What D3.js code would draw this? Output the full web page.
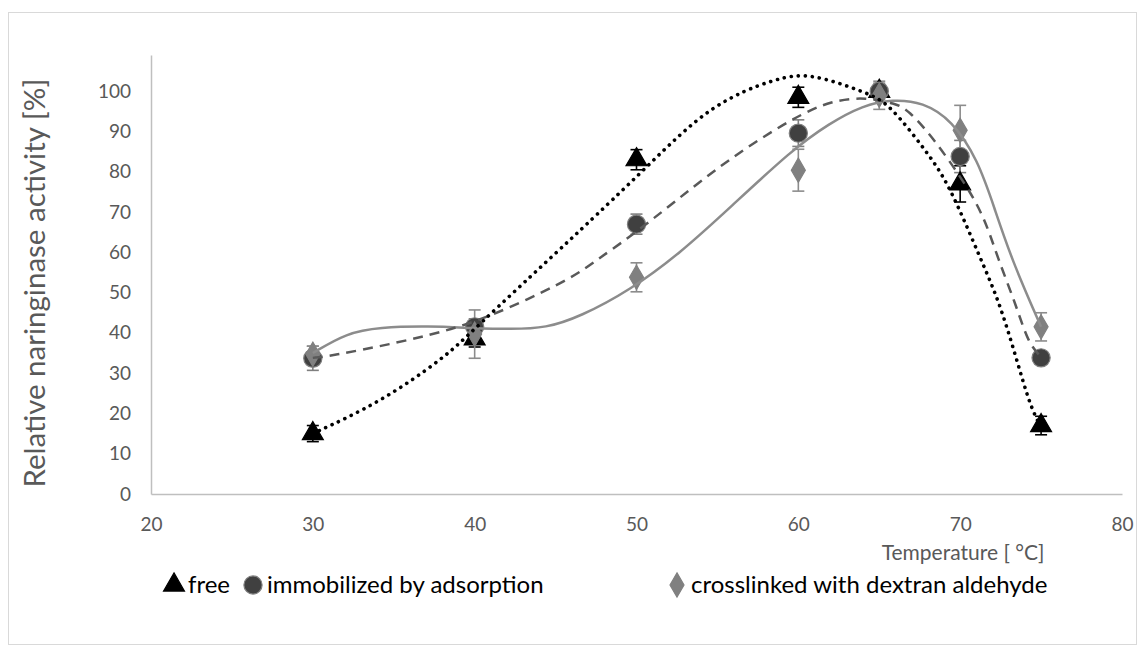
<!DOCTYPE html>
<html>
<head>
<meta charset="utf-8">
<script src="https://cdn.jsdelivr.net/npm/d3@7"></script>
<style>
  body { margin: 0; background: #fff; }
  text { font-family: Lato, "Noto Sans", sans-serif; }
</style>
</head>
<body>
<div id="chart"></div>
<script>
// measured values
const temps = [30, 40, 50, 60, 65, 70, 75];
const freeVals = [15, 38.5, 83, 98.5, 100, 77, 17];
const freeErr = [2, 2, 2.5, 2.5, 1.5, 4.5, 2.3];
const immobVals = [33.7, 41.5, 67, 89.6, 100, 83.8, 33.8];
const immobErr = [3, 2, 2.5, 3.3, 2, 4, 1.5];
const crossVals = [34.7, 39.7, 53.8, 80.4, 99, 90.3, 41.5];
const crossErr = [2, 6, 3.6, 5.2, 3.5, 6.2, 3.5];

// trendlines: [temperature, activity]
const freeTrend = [[30, 15], [34.1, 22.6], [38.2, 34], [39.9, 40.7], [45, 59.8], [46.4, 65], [50.6, 81],
    [54.6, 97], [58.8, 103.5], [60.8, 104.5], [64.3, 99.5], [65.6, 97], [68, 84.6], [69.3, 77],
    [71.3, 58], [72.5, 47], [73.8, 29], [74.4, 21.3], [75, 16.5]];
const immobTrend = [[30, 33.8], [31, 34.2], [35.2, 37.5], [39, 41.2], [42.3, 46.4], [46.1, 53.8],
    [47.6, 58.3], [49.6, 63.8], [52.5, 73], [55.6, 82.9], [59.7, 93.5], [62.1, 97.8], [64.2, 98.5],
    [66, 97], [66.8, 95.3], [68.3, 88.6], [70.3, 77.2], [71.5, 68.7], [72.3, 58.8], [73.5, 46.4],
    [74.2, 37.5], [75, 34]];
const crossTrend = [[30, 35], [32.1, 40], [34.1, 41.4], [37.2, 41.7], [39.8, 41.2], [42.3, 40.9],
    [44.4, 41.2], [46.5, 44], [49.6, 50.6], [52.7, 59.8], [55.8, 71.2], [59.6, 85.4], [61.9, 92],
    [64, 96.5], [65.8, 98], [67.7, 97.3], [69.5, 92.8], [71.1, 82.9], [72.1, 71.2], [73.2, 58], [75, 41.5]];

const xTicks = [20, 30, 40, 50, 60, 70, 80];
const yTicks = [0, 10, 20, 30, 40, 50, 60, 70, 80, 90, 100];

const W = 1144, H = 657;
const svg = d3.select('#chart').append('svg')
    .attr('width', W)
    .attr('height', H);

svg.append('rect')
    .attr('width', W).attr('height', H)
    .attr('fill', '#fff');

// outer chart frame
svg.append('rect')
    .attr('x', 8.5).attr('y', 12.5)
    .attr('width', 1128).attr('height', 632)
    .attr('fill', 'none')
    .attr('stroke', '#d9d9d9');

const x = d3.scaleLinear().domain([20, 80]).range([151, 1122]);
const y = d3.scaleLinear().domain([0, 109]).range([494, 55]);

const axisColor = '#bfbfbf';
const labelColor = '#595959';

// axes
const xAxis = svg.append('g')
    .attr('transform', `translate(0,${y(0)})`)
    .call(d3.axisBottom(x).tickValues(xTicks).tickSize(0).tickPadding(24));
xAxis.select('.domain').attr('stroke', axisColor).attr('stroke-width', 1.5);
xAxis.selectAll('text')
    .style('font-family', 'Lato, sans-serif')
    .style('font-size', '19px')
    .attr('fill', labelColor);

const yAxis = svg.append('g')
    .attr('transform', `translate(${x(20)},0)`)
    .call(d3.axisLeft(y).tickValues(yTicks).tickSize(0).tickPadding(20));
yAxis.select('.domain').attr('stroke', axisColor).attr('stroke-width', 1.5);
yAxis.selectAll('text')
    .style('font-family', 'Lato, sans-serif')
    .style('font-size', '19px')
    .attr('fill', labelColor);

// axis titles
svg.append('text')
    .attr('transform', `translate(45,283) rotate(-90)`)
    .attr('text-anchor', 'middle')
    .style('font-size', '29.5px')
    .attr('fill', labelColor)
    .text('Relative naringinase activity [%]');

svg.append('text')
    .attr('x', 963).attr('y', 560)
    .attr('text-anchor', 'middle')
    .style('font-size', '21px')
    .attr('fill', labelColor)
    .text('Temperature [ °C]');

const series = [
    { name: 'free', vals: freeVals, err: freeErr, shape: d3.symbolTriangle, size: 190, fill: '#000', stroke: '#000', errColor: '#000' },
    { name: 'immobilized by adsorption', vals: immobVals, err: immobErr, shape: d3.symbolCircle, size: 260, fill: '#404040', stroke: '#7f7f7f', errColor: '#7f7f7f' },
    { name: 'crosslinked with dextran aldehyde', vals: crossVals, err: crossErr, shape: d3.symbolDiamond, size: 170, fill: '#808080', stroke: '#808080', errColor: '#8c8c8c' }
];

// error bars
series.forEach(s => {
    const g = svg.append('g').attr('stroke', s.errColor).attr('stroke-width', 1.6);
    temps.forEach((t, i) => {
        const cx = x(t), top = y(s.vals[i] + s.err[i]), bot = y(s.vals[i] - s.err[i]);
        g.append('line').attr('x1', cx).attr('x2', cx).attr('y1', top).attr('y2', bot);
        g.append('line').attr('x1', cx - 6).attr('x2', cx + 6).attr('y1', top).attr('y2', top);
        g.append('line').attr('x1', cx - 6).attr('x2', cx + 6).attr('y1', bot).attr('y2', bot);
    });
});

// markers
series.forEach(s => {
    const sym = d3.symbol().type(s.shape).size(s.size);
    svg.append('g').selectAll('path')
        .data(temps)
        .join('path')
        .attr('transform', (t, i) => `translate(${x(t)},${y(s.vals[i])})`)
        .attr('d', sym)
        .attr('fill', s.fill)
        .attr('stroke', s.stroke)
        .attr('stroke-width', 1.2);
});

// trendlines
const trendLine = d3.line()
    .x(d => x(d[0]))
    .y(d => y(d[1]))
    .curve(d3.curveBasis);

svg.append('path')
    .datum(crossTrend)
    .attr('fill', 'none')
    .attr('stroke', '#8c8c8c')
    .attr('stroke-width', 2.5)
    .attr('d', trendLine);

svg.append('path')
    .datum(immobTrend)
    .attr('fill', 'none')
    .attr('stroke', '#595959')
    .attr('stroke-width', 2.5)
    .attr('stroke-dasharray', '10,7')
    .attr('d', trendLine);

svg.append('path')
    .datum(freeTrend)
    .attr('fill', 'none')
    .attr('stroke', '#000')
    .attr('stroke-width', 3.6)
    .attr('stroke-linecap', 'round')
    .attr('stroke-dasharray', '0.1,7')
    .attr('d', trendLine);

// legend
const legendX = [174, 253, 677];
const legend = svg.append('g');
series.forEach((s, i) => {
    legend.append('path')
        .attr('transform', `translate(${legendX[i]},585)`)
        .attr('d', d3.symbol().type(s.shape).size(s.size)())
        .attr('fill', s.fill)
        .attr('stroke', s.stroke)
        .attr('stroke-width', 1.2);
    legend.append('text')
        .attr('x', legendX[i] + 14)
        .attr('y', 593)
        .style('font-size', '24px')
        .attr('fill', '#000')
        .text(s.name);
});
</script>
</body>
</html>
